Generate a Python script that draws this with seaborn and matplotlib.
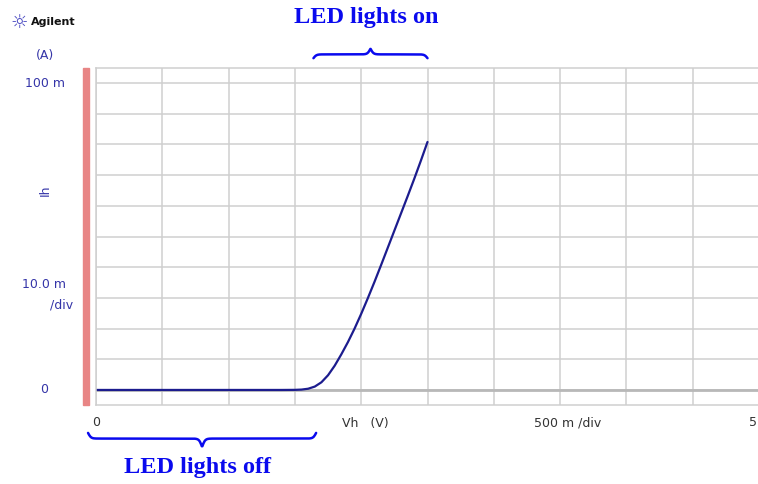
import numpy as np
import pandas as pd
import matplotlib
matplotlib.use('Agg')
import matplotlib.pyplot as plt
import matplotlib.transforms as mtransforms
from matplotlib.patches import Rectangle
import seaborn as sns

# LED I-V sweep (V, mA)
vh = [0.0, 0.5, 1.0, 1.4, 1.5, 1.55, 1.6, 1.65, 1.7, 1.75, 1.8, 1.85, 1.9,
      1.95, 2.0, 2.05, 2.1, 2.15, 2.2, 2.25, 2.3, 2.35, 2.4, 2.45, 2.5]
ih_ma = [0.0, 0.0, 0.0, 0.0, 0.03, 0.12, 0.4, 1.1, 2.5, 4.8, 7.9, 11.6, 15.6,
         20.0, 24.8, 29.9, 35.2, 40.7, 46.3, 51.9, 57.5, 63.1, 68.8, 74.7, 80.8]

x_ticks = np.arange(0, 5.01, 0.5)
y_ticks = np.arange(0, 100.1, 10)

df = pd.DataFrame({"Vh": vh, "Ih": ih_ma})

sns.set_style("white")
plt.rcParams['font.family'] = ['DejaVu Sans']

W, H = 758, 484
fig = plt.figure(figsize=(W / 100, H / 100), dpi=100)
fig.patch.set_facecolor('white')


def px(x, y):
    # pixel position (from top-left) -> figure fraction
    return x / W, 1 - y / H


ax = fig.add_axes([96 / W, 1 - 405.3 / H, 663 / W, 337.6 / H])
sns.lineplot(data=df, x="Vh", y="Ih", ax=ax, color='#1c1c8e', linewidth=1.6)

ax.set_xlim(0, 5)
ax.set_ylim(-5, 105)
ax.set_xticks(x_ticks)
ax.set_yticks(y_ticks)
ax.set_xticklabels([])
ax.set_yticklabels([])
ax.tick_params(length=0)
ax.set_xlabel('')
ax.set_ylabel('')
ax.grid(True, color='#cfcfcf', linewidth=1.1)
ax.axhline(0, color='#b8b8b8', linewidth=2.0, zorder=1)
for s in ax.spines.values():
    s.set_color('#cfcfcf')
    s.set_linewidth(1.1)

# pink bar left of the graph
ax.add_patch(Rectangle((-13 / 663, 0), 6 / 663, 1, transform=ax.transAxes,
                       color='#e88585', clip_on=False, zorder=3))

# y axis texts
blue = '#3535a8'
yt = mtransforms.blended_transform_factory(fig.transFigure, ax.transData)
fig.text(*px(45, 55), '(A)', color=blue, fontsize=9, ha='center', va='center')
ax.text(45 / W, 100, '100 m', transform=yt, color=blue, fontsize=9, ha='center', va='center')
ax.text(44 / W, 0, '0', transform=yt, color=blue, fontsize=9, ha='center', va='center')
fig.text(*px(45, 190), 'Ih', color=blue, fontsize=9, ha='center', va='center', rotation=90)
fig.text(*px(44, 284), '10.0 m', color=blue, fontsize=9, ha='center', va='center')
fig.text(*px(62, 305), '/div', color=blue, fontsize=9, ha='center', va='center')

# x axis texts
xt = mtransforms.blended_transform_factory(ax.transData, fig.transFigure)
gray = '#333333'
ax.text(0, 1 - 423 / H, '0', transform=xt, color=gray, fontsize=9, ha='center', va='center')
fig.text(*px(757, 423), '5', color=gray, fontsize=9, ha='right', va='center')
fig.text(*px(365, 423), 'Vh   (V)', color=gray, fontsize=9, ha='center', va='center')
fig.text(*px(568, 423), '500 m /div', color=gray, fontsize=9, ha='center', va='center')

# Agilent logo
fig.text(*px(19, 22), '\u263c', color='#4545c0', fontsize=14, ha='center', va='center')
fig.text(*px(31, 22), 'Agilent', color='#111111', fontsize=8, fontweight='bold',
         ha='left', va='center')


def brace(x0, x1, y_end, y_tip, b=90.0):
    # curly brace between x0 and x1 (data units), ends at y_end, tip at y_tip
    xs = np.linspace(x0, x1, 400)
    half = (x1 - x0) / 2
    u = np.minimum(xs - x0, x1 - xs)
    s1 = 1 / (1 + np.exp(-b * u))
    s2 = 1 / (1 + np.exp(-b * (u - half)))
    frac = 0.4 * (s1 - 0.5) / 0.5 + 0.6 * s2 / 0.5
    ax.plot(xs, y_end + frac * (y_tip - y_end), color='#0a0aee', linewidth=1.8,
            clip_on=False, solid_capstyle='round')


led = '#0a0aee'
brace(1.64, 2.50, 108.1, 111.2)
brace(-0.06, 1.66, -14.0, -18.6)
fig.text(*px(366, 17), 'LED lights on', color=led, fontsize=17.5, fontweight='bold',
         family='Liberation Serif', ha='center', va='center')
fig.text(*px(197, 468), 'LED lights off', color=led, fontsize=17.5, fontweight='bold',
         family='Liberation Serif', ha='center', va='center')

fig.savefig('out.png', dpi=100)
